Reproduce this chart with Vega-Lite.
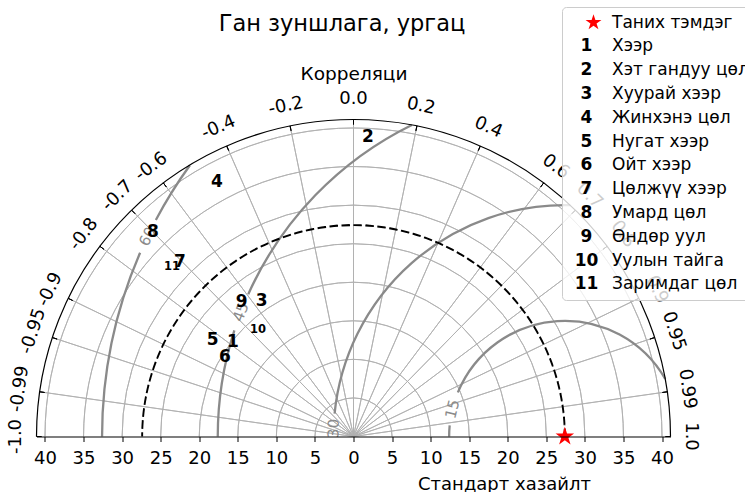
{
  "$schema": "https://vega.github.io/schema/vega-lite/v6.json",
  "width": 634,
  "height": 317,
  "autosize": {"type": "none"},
  "padding": {"left": 36.5, "top": 119.5, "right": 74.5, "bottom": 55.5},
  "background": "white",
  "config": {"view": {"stroke": null}, "font": "DejaVu Sans"},
  "title": {"text": "Ган зуншлага, ургац", "font": "DejaVu Sans", "fontSize": 22.5, "fontWeight": "normal", "color": "black", "anchor": "middle", "frame": "group", "dx": -11.5, "offset": -46.5, "baseline": "alphabetic"},
  "datasets": {
    "rings": [{"r": 5}, {"r": 10}, {"r": 15}, {"r": 20}, {"r": 25}, {"r": 30}, {"r": 35}, {"r": 40}, {"r": 41.1}],
    "corr": [
      {"label": "-1.0", "phi": 180}, {"label": "-0.99", "phi": 171.89}, {"label": "-0.95", "phi": 161.81},
      {"label": "-0.9", "phi": 154.16}, {"label": "-0.8", "phi": 143.13}, {"label": "-0.7", "phi": 134.43},
      {"label": "-0.6", "phi": 126.87}, {"label": "-0.4", "phi": 113.58}, {"label": "-0.2", "phi": 101.54},
      {"label": "0.0", "phi": 90}, {"label": "0.2", "phi": 78.46}, {"label": "0.4", "phi": 66.42},
      {"label": "0.6", "phi": 53.13}, {"label": "0.7", "phi": 45.57}, {"label": "0.8", "phi": 36.87},
      {"label": "0.9", "phi": 25.84}, {"label": "0.95", "phi": 18.19}, {"label": "0.99", "phi": 8.11},
      {"label": "1.0", "phi": 0}
    ],
    "rms": [
      {"level": 15, "cx": 27.4, "p1": 174.5, "p2": 180},
      {"level": 15, "cx": 27.4, "p1": 29.81, "p2": 157.6},
      {"level": 30, "cx": 27.4, "p1": 88.66, "p2": 174.3},
      {"level": 45, "cx": 27.4, "p1": 162.2, "p2": 180},
      {"level": 45, "cx": 27.4, "p1": 116.15, "p2": 155.8},
      {"level": 60, "cx": 27.4, "p1": 156.6, "p2": 180},
      {"level": 60, "cx": 27.4, "p1": 144.11, "p2": 152.1}
    ],
    "rmslab": [
      {"level": 15, "cx": 27.4, "phi": 166.3},
      {"level": 30, "cx": 27.4, "phi": 178},
      {"level": 45, "cx": 27.4, "phi": 159},
      {"level": 60, "cx": 27.4, "phi": 154.4}
    ],
    "stations": [
      {"id": "00", "name": "Таних тэмдэг", "mark": "", "x": 27.4, "y": 0},
      {"id": "01", "name": "Хээр", "mark": "1", "x": -15.62, "y": 12.29},
      {"id": "02", "name": "Хэт гандуу цөл", "mark": "2", "x": 1.88, "y": 38.83},
      {"id": "03", "name": "Хуурай хээр", "mark": "3", "x": -11.9, "y": 17.61},
      {"id": "04", "name": "Жинхэнэ цөл", "mark": "4", "x": -17.7, "y": 32.99},
      {"id": "05", "name": "Нугат хээр", "mark": "5", "x": -18.25, "y": 12.51},
      {"id": "06", "name": "Ойт хээр", "mark": "6", "x": -16.66, "y": 10.31},
      {"id": "07", "name": "Цөлжүү хээр", "mark": "7", "x": -22.49, "y": 22.62},
      {"id": "08", "name": "Умард цөл", "mark": "8", "x": -25.99, "y": 26.51},
      {"id": "09", "name": "Өндөр уул", "mark": "9", "x": -14.5, "y": 17.48},
      {"id": "10", "name": "Уулын тайга", "mark": "10", "x": -12.38, "y": 13.81},
      {"id": "11", "name": "Заримдаг цөл", "mark": "11", "x": -23.53, "y": 21.98}
    ]
  },
  "resolve": {"axis": {"x": "independent"}},
  "layer": [
    {
      "data": {"name": "rings"},
      "transform": [{"filter": "datum.r < 41"}],
      "mark": {"type": "arc", "filled": false, "color": "#b0b0b0", "strokeWidth": 0.9},
      "encoding": {
        "x": {"datum": 0, "type": "quantitative", "scale": {"domain": [-41.1, 41.1], "nice": false, "zero": false}, "axis": null},
        "y": {"datum": 0, "type": "quantitative", "scale": {"domain": [0, 41.1], "nice": false, "zero": false}, "axis": null},
        "radius": {"field": "r", "type": "quantitative", "scale": {"type": "linear", "domain": [0, 41.1], "range": [0, 317], "nice": false, "zero": true}},
        "radius2": {"field": "r"},
        "theta": {"datum": 0, "type": "quantitative", "scale": {"domain": [0, 180], "range": [1.5707963, -1.5707963], "nice": false, "zero": false}},
        "theta2": {"datum": 180}
      }
    },
    {
      "data": {"name": "corr"},
      "transform": [{"filter": "datum.phi > 0 && datum.phi < 180"}],
      "mark": {"type": "arc", "filled": false, "color": "#b0b0b0", "strokeWidth": 0.9},
      "encoding": {
        "x": {"datum": 0, "type": "quantitative", "scale": {"domain": [-41.1, 41.1], "nice": false, "zero": false}, "axis": null},
        "y": {"datum": 0, "type": "quantitative", "scale": {"domain": [0, 41.1], "nice": false, "zero": false}, "axis": null},
        "radius": {"datum": 41.1, "type": "quantitative", "scale": {"type": "linear", "domain": [0, 41.1], "range": [0, 317], "nice": false, "zero": true}},
        "radius2": {"datum": 0},
        "theta": {"field": "phi", "type": "quantitative", "stack": null, "scale": {"domain": [0, 180], "range": [1.5707963, -1.5707963], "nice": false, "zero": false}},
        "theta2": {"field": "phi"}
      }
    },
    {
      "data": {"name": "rms"},
      "mark": {"type": "arc", "filled": false, "color": "#8a8a8a", "strokeWidth": 2.3},
      "encoding": {
        "x": {"field": "cx", "type": "quantitative", "stack": null, "scale": {"domain": [-41.1, 41.1], "nice": false, "zero": false}, "axis": null},
        "y": {"datum": 0, "type": "quantitative", "scale": {"domain": [0, 41.1], "nice": false, "zero": false}, "axis": null},
        "radius": {"field": "level", "type": "quantitative", "stack": null, "scale": {"type": "linear", "domain": [0, 41.1], "range": [0, 317], "nice": false, "zero": true}},
        "radius2": {"field": "level"},
        "theta": {"field": "p1", "type": "quantitative", "stack": null, "scale": {"domain": [0, 180], "range": [1.5707963, -1.5707963], "nice": false, "zero": false}},
        "theta2": {"field": "p2"}
      }
    },
    {
      "data": {"name": "rmslab"},
      "mark": {"type": "text", "color": "#8a8a8a", "fontSize": 15, "font": "DejaVu Sans", "align": "center", "baseline": "middle"},
      "encoding": {
        "x": {"field": "cx", "type": "quantitative", "stack": null, "scale": {"domain": [-41.1, 41.1], "nice": false, "zero": false}, "axis": null},
        "y": {"datum": 0, "type": "quantitative", "scale": {"domain": [0, 41.1], "nice": false, "zero": false}, "axis": null},
        "radius": {"field": "level", "type": "quantitative", "scale": {"type": "linear", "domain": [0, 41.1], "range": [0, 317], "nice": false, "zero": true}},
        "theta": {"field": "phi", "type": "quantitative", "stack": null, "scale": {"domain": [0, 180], "range": [1.5707963, -1.5707963], "nice": false, "zero": false}},
        "angle": {"field": "phi", "type": "quantitative", "scale": {"domain": [0, 180], "range": [90, -90], "nice": false, "zero": false}, "legend": null},
        "text": {"field": "level", "type": "quantitative"}
      }
    },
    {
      "data": {"name": "stations"},
      "transform": [{"filter": "datum.id === '00'"}],
      "mark": {"type": "arc", "filled": false, "color": "black", "strokeWidth": 1.9, "strokeDash": [8, 4], "strokeDashOffset": 0.08},
      "encoding": {
        "x": {"datum": 0, "type": "quantitative", "scale": {"domain": [-41.1, 41.1], "nice": false, "zero": false}, "axis": null},
        "y": {"datum": 0, "type": "quantitative", "scale": {"domain": [0, 41.1], "nice": false, "zero": false}, "axis": null},
        "radius": {"field": "x", "type": "quantitative", "scale": {"type": "linear", "domain": [0, 41.1], "range": [0, 317], "nice": false, "zero": true}},
        "radius2": {"field": "x"},
        "theta": {"datum": 0, "type": "quantitative", "scale": {"domain": [0, 180], "range": [1.5707963, -1.5707963], "nice": false, "zero": false}},
        "theta2": {"datum": 180}
      }
    },
    {
      "data": {"name": "rings"},
      "transform": [{"filter": "datum.r > 41"}],
      "mark": {"type": "arc", "filled": false, "color": "black", "strokeWidth": 1.2},
      "encoding": {
        "x": {"datum": 0, "type": "quantitative", "scale": {"domain": [-41.1, 41.1], "nice": false, "zero": false}, "axis": null},
        "y": {"datum": 0, "type": "quantitative", "scale": {"domain": [0, 41.1], "nice": false, "zero": false}, "axis": null},
        "radius": {"field": "r", "type": "quantitative", "scale": {"type": "linear", "domain": [0, 41.1], "range": [0, 317], "nice": false, "zero": true}},
        "radius2": {"field": "r"},
        "theta": {"datum": 0, "type": "quantitative", "scale": {"domain": [0, 180], "range": [1.5707963, -1.5707963], "nice": false, "zero": false}},
        "theta2": {"datum": 180}
      }
    },
    {
      "data": {"name": "corr"},
      "mark": {"type": "arc", "filled": false, "color": "black", "strokeWidth": 1},
      "encoding": {
        "x": {"datum": 0, "type": "quantitative", "scale": {"domain": [-41.1, 41.1], "nice": false, "zero": false}, "axis": null},
        "y": {"datum": 0, "type": "quantitative", "scale": {"domain": [0, 41.1], "nice": false, "zero": false}, "axis": null},
        "radius": {"datum": 41.1, "type": "quantitative", "scale": {"type": "linear", "domain": [0, 41.1], "range": [0, 317], "nice": false, "zero": true}},
        "radius2": {"datum": 40.45},
        "theta": {"field": "phi", "type": "quantitative", "stack": null, "scale": {"domain": [0, 180], "range": [1.5707963, -1.5707963], "nice": false, "zero": false}},
        "theta2": {"field": "phi"}
      }
    },
    {
      "data": {"name": "corr"},
      "mark": {"type": "text", "color": "black", "fontSize": 18, "font": "DejaVu Sans", "align": "center", "baseline": "middle"},
      "encoding": {
        "x": {"datum": 0, "type": "quantitative", "scale": {"domain": [-41.1, 41.1], "nice": false, "zero": false}, "axis": null},
        "y": {"datum": 0, "type": "quantitative", "scale": {"domain": [0, 41.1], "nice": false, "zero": false}, "axis": null},
        "radius": {"datum": 43.7, "type": "quantitative", "scale": {"type": "linear", "domain": [0, 41.1], "range": [0, 317], "nice": false, "zero": true}},
        "theta": {"field": "phi", "type": "quantitative", "stack": null, "scale": {"domain": [0, 180], "range": [1.5707963, -1.5707963], "nice": false, "zero": false}},
        "angle": {"field": "phi", "type": "quantitative", "scale": {"domain": [0, 180], "range": [90, -90], "nice": false, "zero": false}, "legend": null},
        "text": {"field": "label", "type": "nominal"}
      }
    },
    {
      "data": {"name": "stations"},
      "mark": {"type": "point", "filled": true, "opacity": 1, "strokeWidth": 0, "size": 380},
      "encoding": {
        "x": {"field": "x", "type": "quantitative", "scale": {"domain": [-41.1, 41.1], "nice": false, "zero": false},
              "axis": {"orient": "top", "domain": false, "ticks": false, "labels": false, "grid": false, "title": "Корреляци", "titleFont": "DejaVu Sans", "titleFontSize": 18.5, "titleFontWeight": "normal", "titleColor": "black", "titleAnchor": "middle", "titleBaseline": "alphabetic", "titleY": -40.5}},
        "y": {"field": "y", "type": "quantitative", "scale": {"domain": [0, 41.1], "nice": false, "zero": false}, "axis": null},
        "shape": {"field": "id", "type": "nominal",
                  "scale": {"range": ["M0,-1L0.2245,-0.309L0.9511,-0.309L0.3633,0.118L0.5878,0.809L0,0.382L-0.5878,0.809L-0.3633,0.118L-0.9511,-0.309L-0.2245,-0.309Z", "circle", "circle", "circle", "circle", "circle", "circle", "circle", "circle", "circle", "circle", "circle"]},
                  "legend": {"orient": "none", "legendX": 541.5, "legendY": -105.5, "title": null, "padding": 0, "direction": "vertical",
                             "symbolSize": 289, "symbolStrokeWidth": 0, "symbolOpacity": 0, "labelFont": "DejaVu Sans", "labelFontWeight": "bold",
                             "labelFontSize": 17, "labelColor": "black", "labelAlign": "center", "labelOffset": -8.5, "rowPadding": 5.8,
                             "labelExpr": "datum.value == '00' ? '' : '' + toNumber(datum.value)", "zindex": 2,
                             "encode": {"symbols": {"update": {"opacity": {"value": 0}, "strokeOpacity": {"value": 0}, "fillOpacity": {"value": 0}}},
                                        "labels": {"update": {"fontSize": {"signal": "datum.value >= '10' ? 12 : 17"}}}}}},
        "fill": {"field": "name", "type": "nominal",
                 "scale": {"domain": ["Таних тэмдэг", "Хээр", "Хэт гандуу цөл", "Хуурай хээр", "Жинхэнэ цөл", "Нугат хээр", "Ойт хээр", "Цөлжүү хээр", "Умард цөл", "Өндөр уул", "Уулын тайга", "Заримдаг цөл"],
                           "range": ["red", "transparent", "transparent", "transparent", "transparent", "transparent", "transparent", "transparent", "transparent", "transparent", "transparent", "transparent"]},
                 "legend": {"orient": "none", "legendX": 525.5, "legendY": -112.5, "title": null, "padding": 7, "direction": "vertical",
                            "symbolSize": 280, "symbolType": "M0,-1L0.2245,-0.309L0.9511,-0.309L0.3633,0.118L0.5878,0.809L0,0.382L-0.5878,0.809L-0.3633,0.118L-0.9511,-0.309L-0.2245,-0.309Z", "symbolStrokeWidth": 0, "symbolOffset": 16,
                            "labelFont": "DejaVu Sans", "labelFontSize": 17, "labelColor": "black", "labelOffset": 10, "rowPadding": 5.8, "labelLimit": 300,
                            "fillColor": "rgba(255,255,255,0.8)", "strokeColor": "#cccccc", "cornerRadius": 4, "zindex": 1}}
      }
    },
    {
      "data": {"name": "stations"},
      "transform": [{"filter": "datum.id !== '00' && datum.id < '10'"}],
      "mark": {"type": "text", "color": "black", "fontSize": 17, "fontWeight": "bold", "font": "DejaVu Sans", "align": "center", "baseline": "middle"},
      "encoding": {
        "x": {"field": "x", "type": "quantitative", "scale": {"domain": [-41.1, 41.1], "nice": false, "zero": false},
              "axis": {"orient": "bottom", "values": [-40, -35, -30, -25, -20, -15, -10, -5, 0, 5, 10, 15, 20, 25, 30, 35, 40],
                       "labelExpr": "abs(datum.value)", "labelFont": "DejaVu Sans", "labelFontSize": 18, "labelColor": "black",
                       "labelFlush": false, "labelOverlap": false, "labelPadding": 8,
                       "tickColor": "black", "tickSize": 5, "tickWidth": 1, "domainColor": "black", "domainWidth": 1.2, "grid": false, "zindex": 1,
                       "title": "Стандарт хазайлт", "titleFont": "DejaVu Sans", "titleFontSize": 18, "titleFontWeight": "normal", "titleColor": "black",
                       "titleX": 467.5, "titleY": 52.5, "titleAlign": "center", "titleBaseline": "alphabetic"}},
        "y": {"field": "y", "type": "quantitative", "scale": {"domain": [0, 41.1], "nice": false, "zero": false}, "axis": null},
        "text": {"field": "mark", "type": "nominal"}
      }
    },
    {
      "data": {"name": "stations"},
      "transform": [{"filter": "datum.id >= '10'"}],
      "mark": {"type": "text", "color": "black", "fontSize": 11.5, "fontWeight": "bold", "font": "DejaVu Sans", "align": "center", "baseline": "middle"},
      "encoding": {
        "x": {"field": "x", "type": "quantitative", "scale": {"domain": [-41.1, 41.1], "nice": false, "zero": false}, "axis": null},
        "y": {"field": "y", "type": "quantitative", "scale": {"domain": [0, 41.1], "nice": false, "zero": false}, "axis": null},
        "text": {"field": "mark", "type": "nominal"}
      }
    }
  ]
}
